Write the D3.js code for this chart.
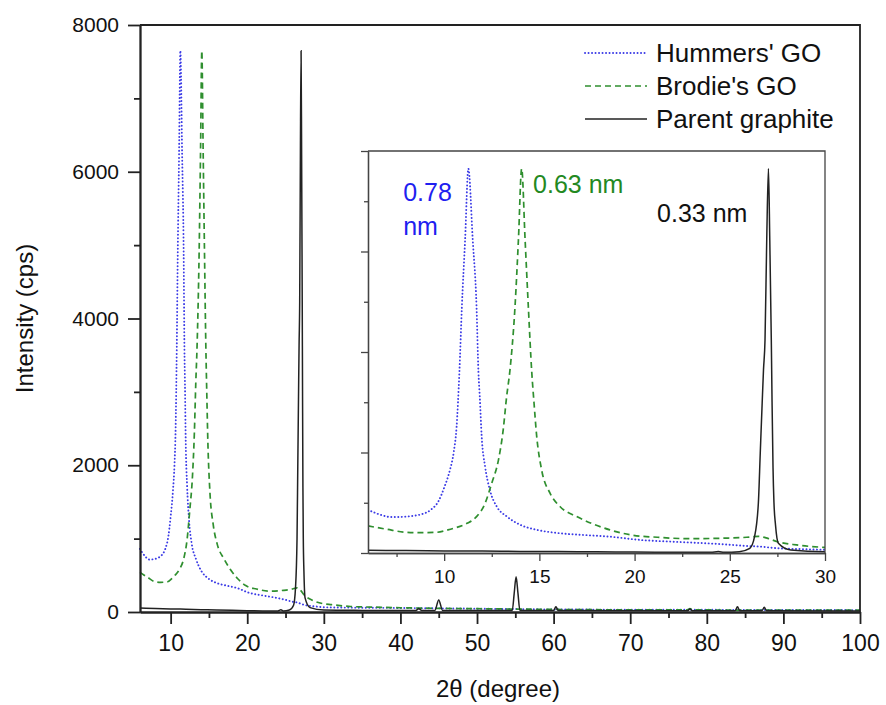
<!DOCTYPE html>
<html lang="en">
<head>
<meta charset="UTF-8">
<title>XRD of graphite oxides</title>
<script src="https://cdn.jsdelivr.net/npm/d3@7"></script>
<style>
  body { margin: 0; background: #fff; }
  svg { font-family: "Liberation Sans", Arial, sans-serif; }
</style>
</head>
<body>
<div id="chart"></div>
<script>
// [2theta (degree), intensity (cps)]
const hummers = [
  [6.0, 860], [6.3, 810], [6.7, 755], [7.2, 715], [7.8, 720], [8.4, 740], [8.8, 770],
  [9.3, 860], [9.7, 1030], [10.0, 1300], [10.3, 1650], [10.5, 2000], [10.65, 2500],
  [10.8, 3600], [10.93, 4900], [11.1, 6235], [11.27, 7650], [11.5, 6235], [11.7, 4900],
  [11.8, 3600], [11.87, 3110], [11.97, 2320], [12.15, 1720], [12.4, 1255], [12.76, 925],
  [13.3, 725], [14.0, 560], [14.9, 458], [16.1, 392], [17.5, 355], [18.7, 325], [20.3, 260],
  [22.0, 225], [23.8, 193], [25.2, 160], [25.9, 140], [26.5, 130], [27.5, 95], [29.0, 75],
  [30.0, 65], [33, 60], [36, 58], [40, 55], [45, 50], [50, 45], [55, 40], [60, 35],
  [70, 32], [80, 30], [90, 28], [100, 26]
];
const brodie = [
  [6.0, 540], [6.5, 505], [7.0, 472], [7.9, 415], [8.7, 404], [9.6, 412], [10.2, 460],
  [10.5, 492], [11.2, 590], [11.7, 723], [12.15, 990], [12.5, 1390], [12.85, 1850],
  [13.1, 2450], [13.28, 3110], [13.45, 3620], [13.72, 4900], [13.9, 6235], [14.07, 7650],
  [14.25, 6235], [14.42, 4900], [14.6, 3600], [14.72, 2980], [14.86, 2320], [15.12, 1650],
  [15.56, 1190], [16.08, 925], [16.96, 725], [17.8, 580], [18.7, 460], [19.8, 360],
  [21.2, 313], [22.9, 285], [24.7, 295], [25.9, 313], [26.5, 330], [27.0, 290], [27.5, 225],
  [28.5, 160], [29.9, 113], [31, 100], [33.5, 75], [37.5, 64], [40, 58], [45, 50], [50, 45],
  [60, 35], [70, 30], [77.5, 30], [77.8, 45], [78.1, 30], [80, 28], [90, 26], [100, 25]
];
const graphite = [
  [6.0, 55], [8, 48], [10, 42], [12, 38], [14, 32], [16, 28], [18, 24], [20, 18], [22, 15],
  [24, 14], [24.4, 30], [24.7, 14], [25.5, 27], [26.05, 93], [26.3, 325], [26.5, 990],
  [26.6, 1990], [26.7, 2980], [26.77, 3645], [26.85, 4240], [26.94, 6235], [27.03, 7650],
  [27.1, 6235], [27.18, 4240], [27.22, 3000], [27.27, 1700], [27.32, 1000], [27.4, 560],
  [27.55, 193], [28.2, 60], [30, 27], [35, 22], [40, 20], [42.0, 20], [42.4, 45], [42.8, 20],
  [44.5, 22], [45.0, 165], [45.5, 22], [50, 20], [54.6, 22], [54.85, 250], [55.1, 480],
  [55.35, 250], [55.6, 22], [60.0, 20], [60.3, 72], [60.6, 20], [77.5, 18], [77.8, 40],
  [78.1, 18], [83.7, 18], [84.0, 72], [84.3, 18], [87.2, 18], [87.5, 64], [87.8, 18], [100, 15]
];
const seriesNames = ["Hummers' GO", "Brodie's GO", "Parent graphite"];

const mainXTicks = [10, 20, 30, 40, 50, 60, 70, 80, 90, 100];
const mainXMinor = [15, 25, 35, 45, 55, 65, 75, 85, 95];
const mainYTicks = [0, 2000, 4000, 6000, 8000];
const mainYMinor = [1000, 3000, 5000, 7000];
const insetXTicks = [10, 15, 20, 25, 30];
const insetXMinor = [7.5, 12.5, 17.5, 22.5, 27.5];
const insetYTicks = [0, 2000, 4000, 6000, 8000];
const insetYMinor = [1000, 3000, 5000, 7000];

// interlayer spacing labels: [text lines, angle, cps]
const spacingLabels = [
  { lines: ["0.78", "nm"], at: [7.85, 7000] },
  { lines: ["0.63 nm"], at: [14.67, 7165] },
  { lines: ["0.33 nm"], at: [21.18, 6590] }
];

const width = 886, height = 705;
const styles = [
  { stroke: "#3b3be6", dash: "0.1,3.4", w: 1.9, cap: "round" },
  { stroke: "#2f8f2f", dash: "6,4", w: 1.7, cap: "butt" },
  { stroke: "#222", dash: null, w: 1.5, cap: "butt" }
];
const labelColors = ["#1f1ff0", "#23891f", "#111"];
const series = [hummers, brodie, graphite];

const svg = d3.select("#chart").append("svg")
  .attr("width", width)
  .attr("height", height);

// main plot
const x = d3.scaleLinear().domain([6, 100]).range([140, 860]);
const y = d3.scaleLinear().domain([0, 8000]).range([612, 25]);

const line = (xs, ys) => d3.line()
  .x(d => xs(d[0]))
  .y(d => ys(d[1]))
  .curve(d3.curveMonotoneX);

function drawSeries(g, xs, ys) {
  g.selectAll("path")
    .data(series)
    .join("path")
    .attr("fill", "none")
    .attr("stroke", (d, i) => styles[i].stroke)
    .attr("stroke-width", (d, i) => styles[i].w)
    .attr("stroke-dasharray", (d, i) => styles[i].dash)
    .attr("stroke-linecap", (d, i) => styles[i].cap)
    .attr("d", d => line(xs, ys)(d));
}

drawSeries(svg.append("g"), x, y);

function styleAxis(g, fs, color, sw) {
  g.select(".domain").attr("stroke", color).attr("stroke-width", sw);
  g.selectAll(".tick line").attr("stroke", color).attr("stroke-width", sw);
  g.selectAll(".tick text").attr("fill", "#111").attr("font-size", fs)
    .attr("font-family", "Liberation Sans, Arial, sans-serif");
}

svg.append("g")
  .attr("transform", `translate(0,${y(0)})`)
  .call(d3.axisBottom(x).tickValues(mainXMinor).tickSize(6).tickSizeOuter(0).tickFormat(""))
  .call(g => styleAxis(g, 23, "#222", 1.8));
svg.append("g")
  .attr("transform", `translate(0,${y(0)})`)
  .call(d3.axisBottom(x).tickValues(mainXTicks).tickSize(12).tickPadding(11).tickSizeOuter(0))
  .call(g => styleAxis(g, 23, "#222", 1.8));
svg.append("g")
  .attr("transform", `translate(${x(6)},0)`)
  .call(d3.axisLeft(y).tickValues(mainYMinor).tickSize(6).tickSizeOuter(0).tickFormat(""))
  .call(g => styleAxis(g, 21, "#222", 1.8));
svg.append("g")
  .attr("transform", `translate(${x(6)},0)`)
  .call(d3.axisLeft(y).tickValues(mainYTicks).tickSize(12).tickPadding(9).tickSizeOuter(0)
    .tickFormat(d3.format("d")))
  .call(g => styleAxis(g, 21, "#222", 1.8));

// top and right frame
svg.append("path")
  .attr("fill", "none")
  .attr("stroke", "#222")
  .attr("stroke-width", 1.8)
  .attr("d", `M${x(6)},${y(8000)}H${x(100)}V${y(0)}`);

svg.append("text")
  .attr("transform", `translate(33,${(y(0) + y(8000)) / 2}) rotate(-90)`)
  .attr("text-anchor", "middle")
  .attr("font-size", 24)
  .attr("fill", "#111")
  .text("Intensity (cps)");

svg.append("text")
  .attr("x", 498)
  .attr("y", 697)
  .attr("text-anchor", "middle")
  .attr("font-size", 24)
  .attr("fill", "#111")
  .text("2\u03b8 (degree)");

// legend
const legend = svg.append("g").selectAll("g")
  .data(seriesNames)
  .join("g")
  .attr("transform", (d, i) => `translate(585,${53 + i * 33})`);
legend.append("line")
  .attr("x2", 62)
  .attr("stroke", (d, i) => styles[i].stroke)
  .attr("stroke-width", (d, i) => styles[i].w)
  .attr("stroke-dasharray", (d, i) => styles[i].dash)
  .attr("stroke-linecap", (d, i) => styles[i].cap);
legend.append("text")
  .attr("x", 71)
  .attr("dy", "0.35em")
  .attr("font-size", 26)
  .attr("fill", "#111")
  .text(d => d);

// inset
const xi = d3.scaleLinear().domain([6, 30]).range([368, 825]);
const yi = d3.scaleLinear().domain([0, 8000]).range([553, 151]);

svg.append("rect")
  .attr("x", xi(6)).attr("y", yi(8000))
  .attr("width", xi(30) - xi(6)).attr("height", yi(0) - yi(8000))
  .attr("fill", "#fff");

svg.append("clipPath").attr("id", "inset-clip")
  .append("rect")
  .attr("x", xi(6)).attr("y", yi(8000))
  .attr("width", xi(30) - xi(6)).attr("height", yi(0) - yi(8000));

drawSeries(svg.append("g").attr("clip-path", "url(#inset-clip)"), xi, yi);

svg.append("g")
  .attr("transform", `translate(0,${yi(0)})`)
  .call(d3.axisBottom(xi).tickValues(insetXMinor).tickSize(4).tickSizeOuter(0).tickFormat(""))
  .call(g => styleAxis(g, 19, "#444", 1.3));
svg.append("g")
  .attr("transform", `translate(0,${yi(0)})`)
  .call(d3.axisBottom(xi).tickValues(insetXTicks).tickSize(8).tickPadding(9).tickSizeOuter(0))
  .call(g => styleAxis(g, 19, "#444", 1.3));
svg.append("g")
  .attr("transform", `translate(${xi(6)},0)`)
  .call(d3.axisLeft(yi).tickValues(insetYMinor).tickSize(4).tickSizeOuter(0).tickFormat(""))
  .call(g => styleAxis(g, 19, "#444", 1.3));
svg.append("g")
  .attr("transform", `translate(${xi(6)},0)`)
  .call(d3.axisLeft(yi).tickValues(insetYTicks).tickSize(7).tickSizeOuter(0).tickFormat(""))
  .call(g => styleAxis(g, 19, "#444", 1.3));

svg.append("path")
  .attr("fill", "none")
  .attr("stroke", "#444")
  .attr("stroke-width", 1.3)
  .attr("d", `M${xi(6)},${yi(8000)}H${xi(30)}V${yi(0)}`);

// spacing annotations
const notes = svg.append("g").selectAll("text")
  .data(spacingLabels)
  .join("text")
  .attr("x", d => xi(d.at[0]))
  .attr("y", d => yi(d.at[1]))
  .attr("font-size", 25)
  .attr("fill", (d, i) => labelColors[i]);
notes.selectAll("tspan")
  .data(d => d.lines.map(t => ({ t, x: xi(d.at[0]) })))
  .join("tspan")
  .attr("x", d => d.x)
  .attr("dy", (d, i) => i === 0 ? 0 : 34)
  .text(d => d.t);
</script>
</body>
</html>
